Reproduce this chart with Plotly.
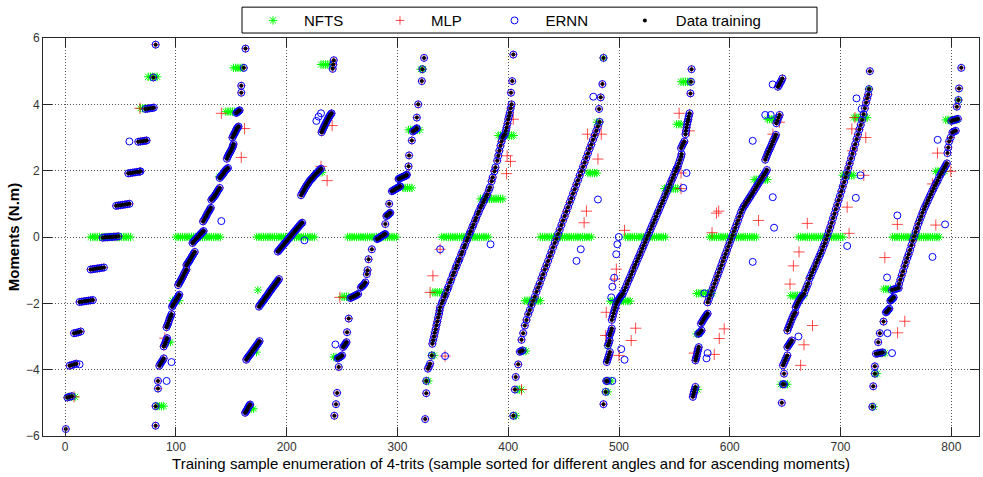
import plotly.graph_objects as go

# ---------------- Data training (sample index, moment) per angle group ----------------
seg1 = [(0.6,-5.79),(2,-4.84),(4,-4.82),(6,-4.8),
        (4,-3.88),(6,-3.86),(8,-3.84),(10,-3.82),
        (8,-2.9),(10,-2.89),(12,-2.87),(14,-2.85),
        (13,-1.96),(15,-1.95),(17,-1.94),(19,-1.93),(21,-1.92),(23,-1.91),(25,-1.9),
        (23,-0.98),(25,-0.97),(27,-0.96),(29,-0.95),(31,-0.94),(33,-0.93),(35,-0.92),
        (34,-0.02),(36,-0.01),(38,-0.01),(40,0.0),(42,0.0),(44,0.01),(46,0.01),(48,0.02),
        (46,0.94),(48,0.95),(50,0.96),(52,0.97),(54,0.98),(56,0.99),(58,1.0),
        (57,1.92),(59,1.93),(61,1.94),(63,1.95),(65,1.96),(67,1.97),(68,1.98),
        (66,2.87),(68,2.88),(70,2.89),(72,2.9),(73.5,2.91),
        (72.5,3.86),(74.5,3.87),(76.5,3.88),(78.5,3.89),(80,3.9),
        (79.6,4.81),(81.7,5.8)]
seg2 = [(81.7,-5.69),(81.7,-5.1),(83.8,-4.57),(83.8,-4.34),
        (85,-3.88),(86,-3.82),(87,-3.77),(88,-3.72),(89,-3.66),
        (89,-3.3),(90,-3.23),(90.7,-3.17),(91.4,-3.1),(92,-3.05),
        (91.5,-2.72),(92.3,-2.66),(93,-2.6),(93.8,-2.52),(94.5,-2.45),(95.3,-2.39),(96,-2.33),
        (96.5,-2.1),(97.3,-2.05),(98,-2.01),(99,-1.96),(99.7,-1.92),(100.6,-1.87),(101.5,-1.83),(102.3,-1.78),(103,-1.74),
        (102,-1.45),(103,-1.39),(104,-1.33),(105,-1.27),(105.8,-1.22),(106.7,-1.16),(107.5,-1.1),(108.5,-1.04),(109.5,-0.98),
        (109.5,-0.85),(110.5,-0.8),(111.5,-0.75),(112.3,-0.71),(113,-0.67),(114,-0.61),(115,-0.56),(116,-0.5),(117,-0.45),
        (115,-0.18),(116,-0.14),(117,-0.1),(118,-0.06),(119,-0.03),(120,0.01),(121,0.04),(122,0.08),(123,0.11),(124,0.15),(125,0.18),
        (124.5,0.47),(125.5,0.52),(126.5,0.58),(127.3,0.63),(128,0.68),(129,0.74),(130,0.79),(130.8,0.84),(131.5,0.88),
        (132,1.12),(133,1.16),(134,1.2),(135,1.24),(135.8,1.28),(136.7,1.33),(137.5,1.38),(138.5,1.43),(139.5,1.48),
        (139.5,1.78),(140.5,1.82),(141.5,1.86),(142.4,1.9),(143.2,1.93),(144,1.98),(145,2.02),(146,2.05),(147,2.08),
        (146,2.36),(146.8,2.42),(147.5,2.48),(148.4,2.53),(149.3,2.58),(150.2,2.64),(151,2.7),(151.5,2.75),(152,2.8),
        (151,3.0),(151.8,3.05),(152.5,3.1),(153.2,3.14),(153.8,3.18),(154.4,3.22),(155,3.27),(155.8,3.3),(156.5,3.33),
        (154.5,3.74),(155.2,3.76),(155.9,3.78),(156.7,3.8),(157.5,3.82),
        (159,4.35),(159,4.56),(161.3,5.1),(162.8,5.68)]
seg3 = [(162.5,-5.3),(163.3,-5.26),(164,-5.22),(164.8,-5.17),(165.5,-5.12),(166.3,-5.08),(167,-5.05),
        (163.5,-3.7),(164.5,-3.65),(165.5,-3.6),(166.5,-3.56),(167.5,-3.52),(168.5,-3.47),(169.5,-3.42),(170.5,-3.38),
        (171.5,-3.33),(172.5,-3.28),(173.5,-3.24),(174.5,-3.19),(175.5,-3.14),
        (175,-2.1),(176,-2.05),(177,-2.0),(178,-1.96),(179,-1.92),(180,-1.87),(181,-1.82),(182,-1.78),(183,-1.73),
        (184,-1.68),(185,-1.63),(186,-1.59),(187,-1.54),(188,-1.5),(189,-1.45),(190,-1.41),(191,-1.36),(192,-1.32),(193,-1.27),
        (192,-0.44),(193,-0.4),(194,-0.36),(195,-0.32),(196,-0.28),(197,-0.24),(198,-0.2),(199,-0.16),(200,-0.12),
        (201,-0.08),(202,-0.04),(203,0.0),(204,0.04),(205,0.08),(206,0.12),(207,0.16),(208,0.2),(209,0.24),(210,0.28),
        (211,0.32),(212,0.36),(213,0.4),(214,0.43),
        (213,1.26),(214,1.32),(215,1.38),(216,1.44),(217,1.5),(218,1.55),(219,1.6),(220,1.65),(221,1.7),(222,1.74),
        (223,1.77),(224,1.81),(225,1.85),(226,1.89),(227,1.92),(228,1.96),(229,1.99),(230,2.03),(231,2.06),
        (231.5,3.16),(232.3,3.22),(233,3.28),(233.8,3.33),(234.5,3.38),(235.3,3.43),(236,3.48),(236.8,3.53),
        (237.5,3.58),(238.3,3.62),(239,3.66),(239.8,3.7),(240.5,3.73),
        (241.5,5.07),(242,5.2),(242.5,5.33)]
seg4 = [(243,-5.39),(244.5,-5.04),(245.5,-4.7),(247,-3.92),
        (246,-3.66),(247,-3.64),(248,-3.62),(249,-3.6),(250,-3.57),
        (251,-3.32),(251.8,-3.28),(252.5,-3.25),(253.3,-3.21),(254,-3.17),
        (254.5,-2.87),(256,-2.46),
        (257.5,-1.84),(258.7,-1.82),(260,-1.8),(261,-1.78),(262,-1.77),(263.3,-1.74),(264.5,-1.72),
        (267,-1.52),(268,-1.49),(269,-1.46),(270,-1.42),(271,-1.37),
        (272.4,-1.12),(273,-1.0),(273.9,-0.67),(276.9,-0.37),
        (281.5,-0.06),(282.5,-0.05),(283.5,-0.03),(284.5,0.0),(285.5,0.02),(286.5,0.04),(287.5,0.06),(288.3,0.08),(289,0.09),
        (289,0.39),(290,0.63),(291,0.66),(292,0.68),(292.8,0.71),(293.5,0.73),(292.5,1.0),
        (295,1.38),(296,1.4),(297,1.42),(298,1.44),(299,1.46),(300,1.48),(301,1.5),(302,1.52),(302.5,1.53),
        (301,1.75),(302,1.77),(303,1.78),(304,1.8),(305,1.81),(306,1.83),(307,1.84),(308,1.86),(308.5,1.88),
        (310,2.13),(310.5,2.46),(313,2.91),
        (314,3.18),(315,3.21),(316,3.23),(317,3.26),(317.5,3.28),
        (317.5,3.6),(318.7,4.0),(322,4.7),(322.5,5.06),(324,5.4)]
seg5 = [(325,-5.49),(326,-4.71),(326,-4.34),
        (327.5,-3.97),(328.5,-3.9),(329.5,-3.82),(331,-3.57),
        (331.5,-3.22),(332.2,-3.11),(333,-3.0),(333.7,-2.89),(334.5,-2.78),(335.2,-2.66),(336,-2.55),
        (336.7,-2.43),(337.5,-2.32),(338,-2.22),
        (338.5,-2.12),(340,-2.0),(341,-1.92),(342.5,-1.8),(343.5,-1.72),(345,-1.59),(346,-1.5),(347.5,-1.37),
        (348.5,-1.28),(350,-1.15),(351,-1.07),(352.5,-0.94),(353.5,-0.86),(355,-0.74),(356,-0.66),(357.5,-0.53),
        (358.5,-0.45),(360,-0.32),(361,-0.24),(362.5,-0.11),(363.5,-0.03),(365,0.09),(366,0.17),(367.5,0.29),
        (368.5,0.37),(370,0.49),(371,0.57),(372.5,0.69),(373.5,0.77),(375,0.88),(376,0.95),(377.5,1.05),
        (378.5,1.12),(380,1.21),(381,1.28),(382.5,1.41),(383.5,1.5),(385,1.68),(386,1.8),(387.5,1.98),
        (388.5,2.1),(390,2.3),(391,2.45),(392,2.6),(393,2.75),(394,2.88),(395,3.0),(396,3.05),(397,3.1),
        (397.8,3.2),(398.5,3.3),(399.3,3.42),(400,3.55),(400.8,3.65),(401.5,3.75),(402.2,3.88),(403,4.0),
        (402.5,4.35),(403.6,4.7),(404.6,5.5)]
seg6 = [(404.6,-5.39),(406,-4.6),(406.8,-4.22),(409,-3.84),
        (410.5,-3.46),(411.7,-3.44),(413,-3.42),(412,-3.1),(413.5,-2.9),(415,-2.67),(416.5,-2.5),
        (418,-2.33),(419.5,-2.2),(421,-2.05),(422.5,-1.92),(424,-1.8),(425.5,-1.65),(427,-1.52),
        (428.5,-1.4),(430,-1.25),(431.5,-1.12),(433,-0.98),(434.5,-0.85),(436,-0.72),(437.5,-0.58),
        (439,-0.45),(440.5,-0.31),(442,-0.18),(443.5,-0.05),(445,0.09),(446.5,0.22),(448,0.36),
        (449.5,0.5),(451,0.63),(452.5,0.77),(454,0.9),(455.5,1.04),(457,1.17),(458.5,1.31),(460,1.44),
        (461.5,1.58),(463,1.71),(464.5,1.85),(466,1.98),(467.5,2.12),(469,2.25),(470.5,2.39),(472,2.52),
        (473.5,2.66),(475,2.79),(476.5,2.93),(478,3.06),(479.5,3.2),(481,3.33),(482.5,3.47),
        (482,3.86),(483.5,4.21),(485,4.61),(486,5.4)]
seg7 = [(486,-5.04),(488,-4.67),(488.5,-4.34),(489.5,-4.34),
        (489,-3.77),(489.7,-3.7),(490.4,-3.62),(491.1,-3.55),(491.8,-3.47),
        (490,-3.27),(490.8,-3.2),(491.5,-3.12),
        (491.5,-2.97),(492.2,-2.9),(493,-2.83),(493.5,-2.76),
        (493.5,-2.5),(494.3,-2.4),(495.1,-2.3),(495.9,-2.2),(496.7,-2.12),(497.5,-2.02),(498.5,-1.95),
        (499.5,-1.9),(500.5,-1.84),(501.5,-1.79),(502.5,-1.75),
        (503.5,-1.71),(504.75,-1.61),(506,-1.52),(507.25,-1.42),(508.5,-1.32),(509.75,-1.23),(511,-1.13),
        (512.25,-1.03),(513.5,-0.93),(514.75,-0.84),(516,-0.74),(517.25,-0.64),(518.5,-0.55),(519.75,-0.45),
        (521,-0.35),(522.25,-0.26),(523.5,-0.16),(524.75,-0.06),(526,0.04),(527.25,0.13),(528.5,0.23),
        (529.75,0.33),(531,0.42),(532.25,0.52),(533.5,0.62),(534.75,0.72),(536,0.81),(537.25,0.91),
        (538.5,1.01),(539.75,1.1),(541,1.2),(542.25,1.3),(543.5,1.39),(544.75,1.49),(546,1.59),
        (547.25,1.69),(548.5,1.78),(549.75,1.88),(551,1.98),(552,2.06),
        (553,2.12),(554,2.22),(555,2.32),(556,2.42),(556.5,2.5),
        (556,2.68),(557,2.75),(558,2.82),(559,2.88),
        (560,3.1),(560.5,3.2),(561,3.3),(561.5,3.4),(562,3.48),(562.5,3.55),(563,3.64),(563.7,3.73),
        (564.5,4.33),(565,4.68),(565.5,5.06)]
seg8 = [(566.7,-4.82),(567.2,-4.74),(567.7,-4.67),(568.3,-4.6),(569,-4.52),
        (569,-3.72),(569.5,-3.66),(570,-3.6),(570.5,-3.52),(571,-3.45),(571.5,-3.38),(572,-3.32),
        (571.5,-2.92),(572.5,-2.9),(573.5,-2.86),(574.5,-2.82),
        (574,-2.61),(575,-2.56),(576,-2.5),(577,-2.45),(578,-2.4),(579,-2.35),(580,-2.31),
        (580,-1.97),(581.25,-1.86),(582.5,-1.75),(583.75,-1.63),(585,-1.52),(586.25,-1.41),(587.5,-1.3),
        (588.75,-1.18),(590,-1.07),(591.25,-0.96),(592.5,-0.85),(593.75,-0.73),(595,-0.62),(596.25,-0.51),
        (597.5,-0.4),(598.75,-0.28),(600,-0.17),(601.25,-0.06),(602.5,0.05),(603.75,0.17),(605,0.28),
        (606.25,0.39),(607.5,0.5),(608.75,0.62),(610,0.73),(611.25,0.83),(612.5,0.91),(613.75,0.97),
        (615,1.04),(616.25,1.1),(617.5,1.17),(618.75,1.23),(620,1.3),(621.25,1.36),(622.5,1.43),
        (623.75,1.5),(625,1.57),(626.25,1.63),(627.5,1.7),(628.75,1.76),(630,1.83),(631.25,1.89),
        (632.5,1.96),(633.5,2.02),
        (632,2.33),(633,2.41),(634,2.5),(635,2.58),(636,2.65),(637,2.72),(638,2.8),(639,2.88),(640,2.95),
        (641,3.02),(641.7,3.08),
        (642,3.43),(643,3.5),(644,3.6),(645,3.68),
        (643.5,4.53),(644.5,4.58),(645.5,4.65),(646.5,4.7),(647.5,4.78)]
seg9 = [(647,-5.0),(648,-4.44),(649,-4.44),(649,-4.12),
        (648,-3.87),(649,-3.8),(650,-3.72),(651,-3.65),(652,-3.57),
        (652,-3.32),(653,-3.27),(654,-3.22),(655,-3.17),(656,-3.12),
        (652,-2.82),(653,-2.73),(654,-2.65),(655,-2.56),(656,-2.48),(657,-2.4),(658,-2.33),(659,-2.28),
        (659.5,-2.12),(660.5,-2.05),(661.5,-1.98),(662.5,-1.92),(663.5,-1.86),(664.5,-1.81),(665.5,-1.77),
        (667,-1.71),(668.25,-1.6),(669.5,-1.5),(670.75,-1.4),(672,-1.25),(673.25,-1.16),(674.5,-1.06),
        (675.75,-0.97),(677,-0.88),(678.25,-0.78),(679.5,-0.69),(680.75,-0.59),(682,-0.5),(683.25,-0.4),
        (684.5,-0.29),(685.75,-0.19),(687,-0.07),(688.25,0.05),(689.5,0.18),(690.75,0.3),(692,0.43),
        (693.25,0.57),(694.5,0.7),(695.75,0.84),(697,0.97),(698.25,1.11),(699.5,1.24),(700.75,1.38),
        (702,1.52),(703.25,1.66),(704.5,1.8),(705.75,1.94),(707,2.08),(708.25,2.22),(709.5,2.37),
        (710.75,2.51),(712,2.66),(713.25,2.8),(714.5,2.95),(715.75,3.09),(717,3.24),(718.25,3.38),
        (719.5,3.53),(720.75,3.7),(722,3.88),(723,4.05),(724,4.18),(725,4.3),(725.7,4.46),(726.5,5.0)]
seg10 = [(728.7,-5.12),(729.5,-4.5),(731,-4.12),(731,-3.9),
         (732,-3.52),(733.5,-3.51),(735,-3.5),(736.5,-3.49),(738,-3.48),
         (734,-3.17),(735.5,-2.9),(738.8,-2.55),
         (741,-2.27),(741.75,-2.25),(742.5,-2.22),(743.25,-2.19),(744,-2.16),
         (745,-1.92),(745.75,-1.9),(746.5,-1.87),(747.25,-1.85),(748,-1.82),
         (746.5,-1.6),(748,-1.58),(749.5,-1.57),(751,-1.55),(752.5,-1.54),
         (752.8,-1.42),(754,-1.29),(755.25,-1.16),(756.5,-1.03),(757.75,-0.88),(759,-0.76),(760.25,-0.63),
         (761.5,-0.52),(762.75,-0.39),(764,-0.25),(765.25,-0.11),(766.5,0.02),(767.75,0.15),(769,0.27),
         (770.25,0.4),(771.5,0.51),(772.75,0.62),(774,0.73),(775.25,0.84),(776.5,0.93),(777.75,1.02),
         (779,1.11),(780.25,1.2),(781.5,1.29),(782.75,1.38),(784,1.46),(785.25,1.55),(786.5,1.63),
         (787.7,1.7),(789,1.8),(790.25,1.88),(791.5,1.95),(792.75,2.03),(794,2.1),(795,2.16),(796,2.22),
         (796.5,2.53),(797.2,2.7),(798,2.88),(799.5,3.0),(801,3.15),(802.5,3.18),(804,3.2),
         (800,3.5),(801.5,3.52),(803,3.53),(804.5,3.55),(806,3.56),
         (805,3.93),(806.4,4.13),(807,4.48),(809,5.1)]

# ---------------- Model outputs that depart from the training data ----------------
mlp_extra = [(8,-4.82),(67.5,3.88),(90,-3.05),(141,3.73),(159,2.4),(162,3.27),
             (236.5,1.7),(231,2.13),(241,3.36),(248,-1.82),
             (332,-1.17),(329.5,-1.67),(338.5,-0.37),(343,-3.59),(399,2.45),(402,2.28),(398.5,1.91),(404.5,3.55),
             (481,2.35),(470.6,0.78),(468.5,0.43),(471.6,3.1),(484,3.1),(412,-4.6),
             (488.5,-2.27),(488,-2.97),(497.6,-0.97),(496,-1.27),(505,0.2),(500,-3.57),(515,-2.75),(511,-3.12),
             (556,1.46),(556,1.93),(554.3,3.73),(563.6,3.2),
             (588,0.72),(590,0.78),(584,0.13),(595,-2.77),(590.5,-3.06),(586,-3.54),(626,0.5),(644.8,3.46),(639,3.1),(568,-3.5),
             (670,0.41),(662.5,-0.45),(674.7,-2.67),(667,-3.25),(664,-3.87),(657.4,-0.87),(654.4,-1.42),
             (707.7,0.11),(706,0.9),(721,1.86),(710.8,2.6),(710.2,3.26),(713,3.6),(722.8,3.0),
             (751.3,0.38),(740,-0.62),(758,-2.54),(751.5,-2.89),(786,0.36),(783,1.6),(787.5,2.53),(799.5,1.98)]
ernn_extra = [(13,-3.84),(58,2.88),(91.6,-4.34),(96,-3.77),(141,0.48),
              (216,-0.1),(226.8,3.5),(228.8,3.63),(231,3.73),(244,-3.24),
              (343,-3.59),(338.5,-0.37),(384,-0.22),
              (476.8,4.23),(481,1.13),(465.5,-0.37),(461.6,-0.72),
              (494,-4.34),(505,-3.7),(502,-3.38),(493,-1.82),(494,-1.5),(495.6,-1.23),(497.5,-0.52),(498.5,-0.22),(499.8,0.0),
              (558,1.48),(561,1.93),
              (577,-1.7),(580,-3.5),(579,-3.66),(620.7,-0.75),(638.8,1.2),(640,0.28),(620.7,2.9),(632,3.68),(637,3.68),(638.7,4.6),
              (662,-3.0),(714.4,4.18),(719,3.86),(718,1.86),(713.8,1.18),(706,-0.27),
              (751.3,0.65),(742,-1.22),(742.4,-2.9),(746.5,-3.5),(787.7,2.93),(783,-0.6),(794.4,0.38)]
# NFTS visible outputs: (moment level, sample indices)
nfts_bands = [
    (-4.82,[3,6,9]),
    (0.0,[23,25,27,29,31,33,35,37,39,41,43,45,47,49,51,53,55,57,59]),
    (3.88,[68,70,72,74]),(4.83,[75,77,79,81,83]),
    (-5.1,[83,85,87,89]),(-3.17,[93,95]),(-1.92,[97,100,103]),
    (0.0,[100,102,104,106,108,110,112,114,116,118,120,122,124,126,128,130,132,134,136,138,140]),
    (1.83,[139]),(3.78,[145,147,149,151,153]),(5.1,[152,154,156,158,160]),
    (-5.18,[168,170]),(-3.47,[172.7]),(-1.6,[174]),
    (0.0,[173,175,177,179,181,183,185,187,189,191,193,195,197,199,201,203,205,207,209,211,213,215,217,219,221,223,225]),
    (1.95,[230,232]),(5.2,[231,233,235,237,239]),
    (-3.62,[242.5,244.5]),(-1.8,[250,252,254,256]),
    (0.0,[255,257,259,261,263,265,267,269,271,273,275,277,279,281,283,285,287,289,291,293,295,297,299]),
    (1.48,[305,307,309,311,313]),(3.23,[310,312,314,316,318,320]),(5.06,[321,323]),
    (-4.34,[326,328]),(-3.57,[331,333]),(-1.67,[332,334,336,338,340]),
    (0.0,[340,342,344,346,348,350,352,354,356,358,360,362,364,366,368,370,372,374,376,378,380,382]),
    (1.15,[375,377,379,381,383,385,387,389,391,393,395]),
    (3.06,[391,393,395,397,399,401,403,405]),
    (-5.39,[405,407]),(-4.6,[408,410,412]),(-3.44,[414,416]),
    (-1.92,[415,417,419,421,423,425,427,429]),
    (0.0,[429,431,433,435,437,439,441,443,445,447,449,451,453,455,457,459,461,463,465,467,469,471,473,475]),
    (1.93,[472,474,476,478,480]),(3.46,[480,482]),(5.4,[486]),
    (-4.67,[488,490]),(-4.34,[489,491,493]),(-3.27,[490]),
    (-1.93,[492,494,496,498,500,502,504,506,508,510]),
    (0.0,[506,508,510,512,514,516,518,520,522,524,526,528,530,532,534,536,538,540,542]),
    (1.46,[541,543,545,547,549,551,553]),(3.4,[552,554,556]),(4.68,[556,558,560,562,564]),
    (-4.6,[569,571]),(-2.92,[570,572]),(-1.7,[570,572,574,576,578,580,582,584]),
    (0.0,[582,584,586,588,590,592,594,596,598,600,602,604,606,608,610,612,614,616,618,620,622,624]),
    (1.73,[622,624,626,628,630,632,634]),(3.55,[634,636,638,640]),
    (-4.44,[646,648,650,652]),(-3.72,[650]),(-1.77,[655,657,659,661,663,665,667]),
    (0.0,[662,664,666,668,670,672,674,676,678,680,682,684,686,688,690,692,694,696,698,700,702]),
    (1.86,[702,704,706,708,710,712]),(3.6,[712,714,716,718,720,722,724]),(4.46,[725.7]),
    (-5.12,[730]),(-4.12,[731,733]),(-3.5,[734,736,738,740]),(-1.57,[739,741,743,745]),
    (0.0,[747,749,751,753,755,757,759,761,763,765,767,769,771,773,775,777,779,781,783,785,787,789]),
    (1.98,[786,788,790,792,794]),(3.53,[795,797,799,801,803,805]),(4.13,[806.4]),
]

x_ticks = [0, 100, 200, 300, 400, 500, 600, 700, 800]
y_ticks = [-6, -4, -2, 0, 2, 4, 6]
series_names = ['NFTS', 'MLP', 'ERNN', 'Data training']

# ---------------- build series ----------------
segments = [seg1, seg2, seg3, seg4, seg5, seg6, seg7, seg8, seg9, seg10]
train_x = [p[0] for s in segments for p in s]
train_y = [p[1] for s in segments for p in s]
mlp_x = train_x + [p[0] for p in mlp_extra]
mlp_y = train_y + [p[1] for p in mlp_extra]
ernn_x = train_x + [p[0] for p in ernn_extra]
ernn_y = train_y + [p[1] for p in ernn_extra]
nfts_x = [x for lvl, xs in nfts_bands for x in xs]
nfts_y = [lvl for lvl, xs in nfts_bands for x in xs]

# MLP crosses that sit on the training points are mostly hidden inside the circles
mlp_sizes = [6] * len(train_x) + [8] * len(mlp_extra)

NB = '\u00a0'
legend_pad = [5, 4, 5, 0]
labels = [n + NB * k for n, k in zip(series_names, legend_pad)]

fig = go.Figure()
fig.add_trace(go.Scatter(x=nfts_x, y=nfts_y, mode='markers', name=labels[0],
                         marker=dict(symbol='asterisk-open', size=7, color='#00ff00',
                                     line=dict(width=1, color='#00ff00'))))
fig.add_trace(go.Scatter(x=mlp_x, y=mlp_y, mode='markers', name=labels[1],
                         marker=dict(symbol='cross-thin-open', size=mlp_sizes, color='#ff0000',
                                     line=dict(width=1, color='#ff0000'))))
fig.add_trace(go.Scatter(x=ernn_x, y=ernn_y, mode='markers', name=labels[2],
                         marker=dict(symbol='circle-open', size=7, color='#0000ff',
                                     line=dict(width=1, color='#0000ff'))))
fig.add_trace(go.Scatter(x=train_x, y=train_y, mode='markers', name=labels[3],
                         marker=dict(symbol='circle', size=4, color='#000000')))

axis_common = dict(showline=True, linecolor='#262626', linewidth=1, mirror='allticks',
                   ticks='inside', ticklen=9, tickcolor='#262626',
                   showgrid=True, gridcolor='#555555', griddash='1px,2px', gridwidth=1,
                   zeroline=False, tickfont=dict(size=12, color='#333333'))

fig.update_layout(
    width=983, height=477,
    margin=dict(l=43, r=4, t=36, b=41),
    paper_bgcolor='white', plot_bgcolor='white',
    font=dict(family='Liberation Sans, Arial, sans-serif', size=12, color='black'),
    showlegend=True,
    legend=dict(orientation='h', x=0.2126, xanchor='left', y=1.085, yanchor='top',
                borderwidth=0, bgcolor='rgba(0,0,0,0)',
                font=dict(size=15, color='black'), itemwidth=52),
    shapes=[dict(type='rect', xref='paper', yref='paper',
                 x0=(242 - 43) / 936, x1=(817 - 43) / 936,
                 y0=1 + (36 - 31) / 400, y1=1 + (36 - 5) / 400,
                 line=dict(color='black', width=1), fillcolor='rgba(0,0,0,0)', layer='above')],
    xaxis=dict(range=[-20, 825], tickvals=x_ticks, **axis_common,
               title=dict(text='Training sample enumeration of 4-trits (sample sorted for different angles and for ascending moments)',
                          font=dict(size=15, color='black'), standoff=5),
               automargin=False),
    yaxis=dict(range=[-6, 6], tickvals=y_ticks, **axis_common,
               title=dict(text='<b>Moments (N.m)</b>', font=dict(size=15, color='black'), standoff=2),
               automargin=False),
)

fig.write_html('out.html')
